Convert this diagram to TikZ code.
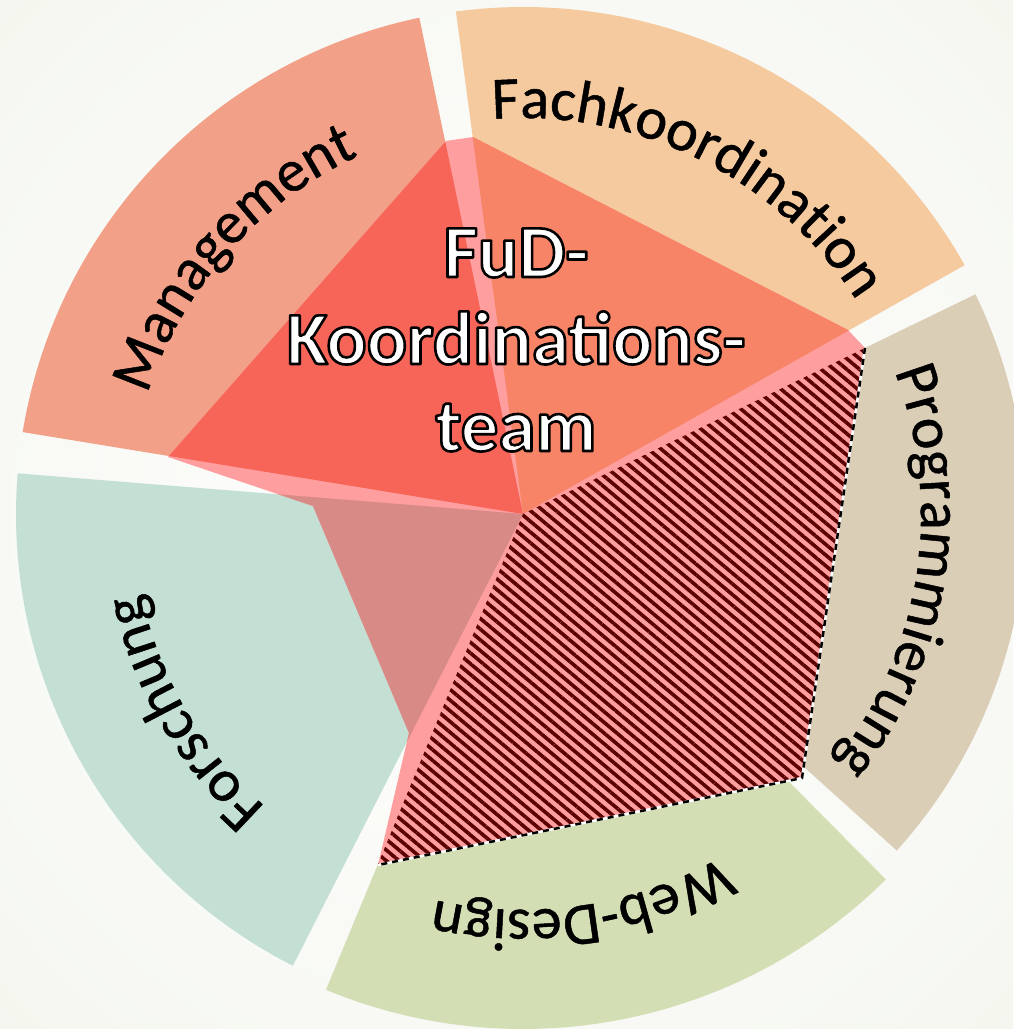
\documentclass[tikz,border=0pt]{standalone}
\usepackage{fontspec}
\setmainfont{Carlito}
\usepackage{xcolor}
\usepackage{tikz}
\usetikzlibrary{decorations.text,patterns.meta}

\definecolor{mgmtcol}{HTML}{F3A088}
\definecolor{fachcol}{HTML}{F5CA9F}
\definecolor{progcol}{HTML}{DBCEB7}
\definecolor{webcol}{HTML}{D4DEB5}
\definecolor{forschcol}{HTML}{C4DFD4}
\definecolor{mgmtdark}{HTML}{F66558}
\definecolor{fachdark}{HTML}{F78467}
\definecolor{forschdark}{HTML}{D78A86}
\definecolor{teampink}{HTML}{FF9E9E}
\definecolor{hatchcol}{HTML}{5A0000}
\definecolor{bgout}{HTML}{EEF1E5}
\colorlet{bgmid}{white!55!bgout}
\pgfdeclareradialshading{bgglow}{\pgfpoint{0bp}{0bp}}{color(0bp)=(white); color(28bp)=(bgmid); color(50bp)=(bgout); color(75bp)=(bgout)}

% slightly heavier letters for the sector names
\newcommand{\labelfont}{\fontsize{60}{64}\selectfont\special{pdf:literal direct 0 G 1 j 0.5 w 2 Tr}}
\newcommand{\teamfont}{\fontsize{75}{87}\selectfont\bfseries}
% white letters with a black rim
\newcommand{\rimtext}[1]{\special{pdf:literal direct 0 G 1 j 2.6 w 2 Tr}#1\special{pdf:literal direct 0 Tr}}

\begin{document}
\begin{tikzpicture}[x=1pt, y=1pt,
    lbl/.style={decorate, decoration={text along path, text align=center, text={|\labelfont|#1}}}]
    % background
    \shade[shading=bgglow] (-523,-515) rectangle (490,514);
    \useasboundingbox (-523,-515) rectangle (490,514);

    % outer sectors
    \foreach \a/\b/\r/\c in {101.8/170.7/507/mgmtcol, 29.4/97.6/507/fachcol,
        -42/25.9/503/progcol, 247.5/314.8/515/webcol, 175.4/243/507/forschcol}
        \fill[\c] (0,0) -- (\a:\r) arc[start angle=\a, end angle=\b, radius=\r] -- cycle;

    % team area
    \coordinate (t1) at (-77,373);
    \coordinate (t2) at (-50,377);
    \coordinate (r1) at (325,184);
    \coordinate (r2) at (342,166);
    \coordinate (br) at (279,-264);
    \coordinate (b) at (-145,-351);
    \coordinate (l3) at (-114,-219);
    \coordinate (l2) at (-210,8);
    \coordinate (l1) at (-355,57);
    \begin{scope}
        \clip (t1) -- (t2) -- (r1) -- (r2) -- (br) -- (b) -- (l3) -- (l2) -- (l1) -- cycle;
        \fill[teampink] (-523,-515) rectangle (490,514);
        \fill[mgmtdark] (0,0) -- (101.8:600) arc[start angle=101.8, end angle=170.7, radius=600] -- cycle;
        \fill[fachdark] (0,0) -- (29.4:600) arc[start angle=29.4, end angle=97.6, radius=600] -- cycle;
        \fill[forschdark] (0,0) -- (175.4:600) arc[start angle=175.4, end angle=243, radius=600] -- cycle;
        \fill[pattern={Lines[angle=-40, distance=8.2pt, line width=3.6pt]}, pattern color=hatchcol]
            (0,0) -- (-112.5:600) arc[start angle=-112.5, end angle=25.9, radius=600] -- cycle;
    \end{scope}
    \draw[white, line width=2.5pt] (r2) -- (br) -- (b);
    \draw[black, line width=2.5pt, dash pattern=on 6pt off 5pt] (r2) -- (br) -- (b);

    % labels
    \path[lbl={Management}] (178.5:394) arc[start angle=178.5, end angle=98.5, radius=394];
    \path[lbl={Fachkoordination}] (103.5:396) arc[start angle=103.5, end angle=23.5, radius=396];
    \path[lbl={Programmierung}] (31.25:398) arc[start angle=31.25, end angle=-48.75, radius=398];
    \path[lbl={Web-Design}] (-41.4:396) arc[start angle=-41.4, end angle=-121.4, radius=396];
    \path[lbl={Forschung}] (250.2:390) arc[start angle=250.2, end angle=170.2, radius=390];

    \node[align=center, text=white, font=\teamfont, inner sep=0pt] (team) at (-7,174)
        {\rimtext{FuD-}\\\rimtext{Koordinations-}\\\rimtext{team}};
\end{tikzpicture}
\end{document}
